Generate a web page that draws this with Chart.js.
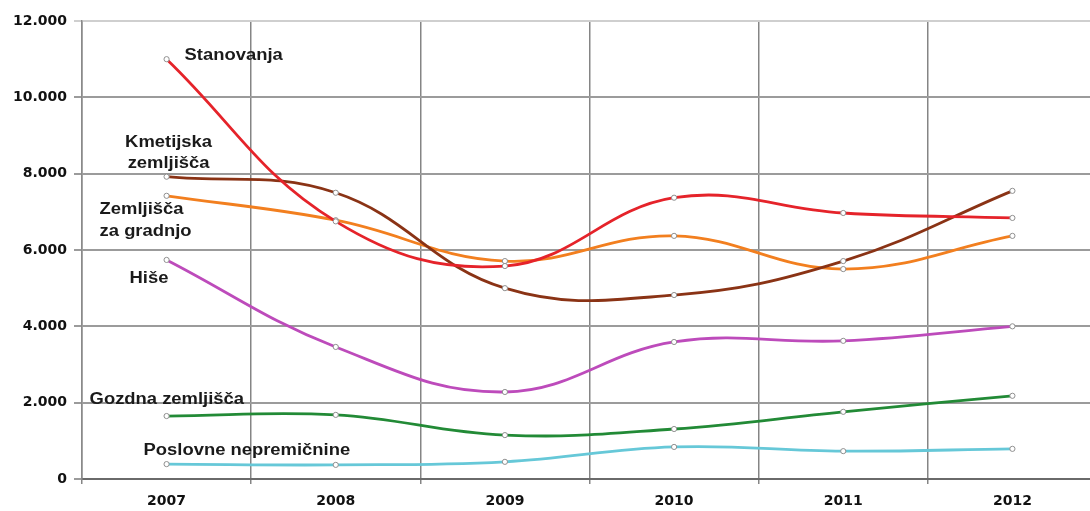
<!DOCTYPE html>
<html>
<head>
<meta charset="utf-8">
<script src="https://cdn.jsdelivr.net/npm/chart.js@4.4.1/dist/chart.umd.min.js"></script>
<style>
  html, body { margin: 0; padding: 0; overflow: hidden; background: #ffffff; }
  #wrap { position: relative; width: 1102px; height: 511px; }
</style>
</head>
<body>
<div id="wrap"><canvas id="chart"></canvas></div>
<script>
// Years on the horizontal axis
const years = ['2007', '2008', '2009', '2010', '2011', '2012'];

// Values per property type
const stanovanja = [11000, 6750, 5580, 7370, 6970, 6840];
const kmetijskaZemljisca = [7920, 7500, 5000, 4820, 5710, 7550];
const zemljiscaZaGradnjo = [7420, 6780, 5710, 6370, 5500, 6370];
const hise = [5740, 3460, 2280, 3590, 3620, 4000];
const gozdnaZemljisca = [1650, 1680, 1150, 1310, 1760, 2180];
const poslovneNepremicnine = [390, 370, 450, 840, 730, 790];

// Value axis
const yTickValues = [0, 2000, 4000, 6000, 8000, 10000, 12000];
const yTickLabels = ['0', '2.000', '4.000', '6.000', '8.000', '10.000', '12.000'];

// Series names (lines of text drawn next to each curve)
const seriesNames = [
  ['Stanovanja'],
  ['Kmetijska', 'zemljišča'],
  ['Zemljišča', 'za gradnjo'],
  ['Hiše'],
  ['Gozdna zemljišča'],
  ['Poslovne nepremičnine']
];

const seriesColors = ['#e5232a', '#8a3315', '#f27f1f', '#bd4bbb', '#228a36', '#66c8d8'];

// Where each name sits, relative to the first point of its curve
const nameStyle = [
  { dx: 18, dy: [-4], align: 'left' },
  { dx: 2, dy: [-34, -13], align: 'center' },
  { dx: -67, dy: [14, 36], align: 'left' },
  { dx: -37, dy: [19], align: 'left' },
  { dx: -77, dy: [-16], align: 'left' },
  { dx: -23, dy: [-14], align: 'left' }
];

const seriesValues = [stanovanja, kmetijskaZemljisca, zemljiscaZaGradnjo, hise, gozdnaZemljisca, poslovneNepremicnine];

const datasets = seriesValues.map((vals, i) => ({
  label: seriesNames[i].join(' '),
  data: vals,
  borderColor: seriesColors[i],
  borderWidth: 2.8,
  tension: 0.4,
  fill: false,
  pointRadius: 2.6,
  pointBackgroundColor: '#ffffff',
  pointBorderColor: '#8f8f8f',
  pointBorderWidth: 1
}));

// Draws the series names inside the plot, horizontally widened a little
const seriesNamePlugin = {
  id: 'seriesNames',
  afterDatasetsDraw(chart) {
    const ctx = chart.ctx;
    const xs = chart.scales.x, ys = chart.scales.y;
    const stretch = 1.15;
    ctx.save();
    ctx.font = 'bold 16px "Liberation Sans", Arial, sans-serif';
    ctx.fillStyle = '#1a1a1a';
    ctx.textBaseline = 'middle';
    seriesNames.forEach((lines, i) => {
      const st = nameStyle[i];
      const px = xs.getPixelForValue(0) + st.dx;
      const py = ys.getPixelForValue(seriesValues[i][0]);
      lines.forEach((txt, j) => {
        const w = ctx.measureText(txt).width * stretch;
        const left = st.align === 'center' ? px - w / 2 : px;
        ctx.save();
        ctx.translate(left, py + st.dy[j]);
        ctx.scale(stretch, 1);
        ctx.textAlign = 'left';
        ctx.fillText(txt, 0, 0);
        ctx.restore();
      });
    });
    ctx.restore();
  }
};

new Chart(document.getElementById('chart'), {
  type: 'line',
  data: { labels: years, datasets },
  options: {
    responsive: true,
    maintainAspectRatio: false,
    animation: false,
    layout: { padding: { top: 21, left: 0, right: 0, bottom: 0 } },
    plugins: {
      legend: { display: false },
      tooltip: { enabled: false }
    },
    scales: {
      x: {
        offset: true,
        afterFit(s) { s.height = 32; },
        grid: {
          offset: true,
          color: '#858585',
          lineWidth: 1.5,
          tickLength: 5,
          drawOnChartArea: true
        },
        border: { color: '#6a6a6a', width: 2 },
        ticks: {
          color: '#111111',
          padding: 9,
          font: { family: '"DejaVu Sans", sans-serif', weight: 'bold', size: 14 }
        }
      },
      y: {
        min: 0,
        max: 12000,
        afterFit(s) { s.width = 82; },
        afterBuildTicks(s) { s.ticks = yTickValues.map(v => ({ value: v })); },
        grid: {
          color: c => (c.tick && c.tick.value === 12000) ? '#cfcfcf' : '#9b9b9b',
          lineWidth: 2,
          tickLength: 8
        },
        border: { color: '#8a8a8a', width: 1.5 },
        ticks: {
          color: '#111111',
          padding: 7,
          font: { family: '"DejaVu Sans", sans-serif', weight: 'bold', size: 14 },
          callback: v => yTickLabels[yTickValues.indexOf(v)]
        }
      }
    }
  },
  plugins: [seriesNamePlugin]
});
</script>
</body>
</html>
